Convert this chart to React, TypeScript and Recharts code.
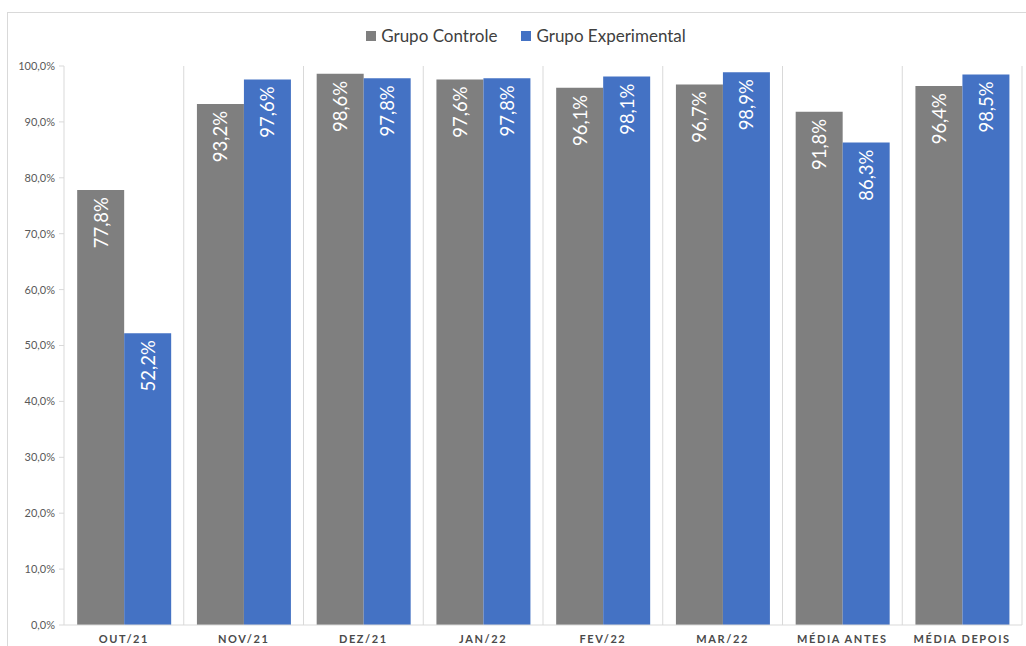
import { BarChart, Bar, XAxis, YAxis, CartesianGrid, LabelList } from 'recharts';

const categories = ['OUT/21', 'NOV/21', 'DEZ/21', 'JAN/22', 'FEV/22', 'MAR/22', 'MÉDIA ANTES', 'MÉDIA DEPOIS'];
const controle = [77.8, 93.2, 98.6, 97.6, 96.1, 96.7, 91.8, 96.4];
const experimental = [52.2, 97.6, 97.8, 97.8, 98.1, 98.9, 86.3, 98.5];
const yTicks = [0, 10, 20, 30, 40, 50, 60, 70, 80, 90, 100];

const GRAY = '#7f7f7f';
const BLUE = '#4472c4';
const FONT = 'Lato, "Open Sans", sans-serif';

const data = categories.map((name, i) => ({
    name,
    controle: controle[i],
    experimental: experimental[i],
}));

const pct = (v: number) => v.toFixed(1).replace('.', ',') + '%';

// value written sideways, reading upwards, near the top of the bar
const RotatedLabel = (props: any) => {
    const { x, y, width, value } = props;
    const cx = x + width / 2;
    const top = y + 7;
    return (
        <text
            x={cx}
            y={top}
            transform={`rotate(-90, ${cx}, ${top})`}
            textAnchor="end"
            dominantBaseline="central"
            fill="#ffffff"
            fontSize={18.5}
            fontFamily={FONT}
        >
            {pct(value)}
        </text>
    );
};

const legendItems = [
    { label: 'Grupo Controle', color: GRAY },
    { label: 'Grupo Experimental', color: BLUE },
];

export default function App() {
    return (
        <>
            <style>{'body{margin:0;overflow:hidden;background:#fff}'}</style>
            <div
                style={{
                    position: 'absolute',
                    left: 7,
                    top: 12,
                    width: 1030,
                    height: 640,
                    border: '1px solid #d9d9d9',
                    background: '#fff',
                }}
            >
                <div
                    style={{
                        position: 'absolute',
                        top: 12,
                        left: 0,
                        width: 1036,
                        display: 'flex',
                        justifyContent: 'center',
                        gap: 24,
                        fontFamily: FONT,
                        fontSize: 17,
                        color: '#404040',
                    }}
                >
                    {legendItems.map((it) => (
                        <div key={it.label} style={{ display: 'flex', alignItems: 'center', gap: 5 }}>
                            <span style={{ width: 10, height: 10, background: it.color, display: 'inline-block' }} />
                            <span>{it.label}</span>
                        </div>
                    ))}
                </div>
                <BarChart
                    width={1017}
                    height={633}
                    data={data}
                    margin={{ top: 53, right: 3, bottom: 0, left: 0 }}
                    barGap={0}
                    barCategoryGap="11%"
                >
                    <CartesianGrid
                        horizontal={false}
                        stroke="#d9d9d9"
                        verticalCoordinatesGenerator={({ offset }: any) =>
                            categories.map((_, i) => offset.left + ((i + 1) * offset.width) / categories.length)
                        }
                    />
                    <XAxis
                        dataKey="name"
                        height={21}
                        tickLine={false}
                        axisLine={{ stroke: '#d9d9d9' }}
                        tickMargin={4}
                        interval={0}
                        tick={{ fill: '#4a4a4a', fontSize: 11, fontFamily: FONT, fontWeight: 700, letterSpacing: 1.6 }}
                    />
                    <YAxis
                        width={56}
                        domain={[0, 100]}
                        ticks={yTicks}
                        tickFormatter={pct}
                        axisLine={{ stroke: '#d9d9d9' }}
                        tickLine={{ stroke: '#d9d9d9' }}
                        tickSize={5}
                        tickMargin={4}
                        tick={{ fill: '#595959', fontSize: 11, fontFamily: FONT }}
                    />
                    <Bar dataKey="controle" fill={GRAY} isAnimationActive={false}>
                        <LabelList dataKey="controle" content={RotatedLabel} />
                    </Bar>
                    <Bar dataKey="experimental" fill={BLUE} isAnimationActive={false}>
                        <LabelList dataKey="experimental" content={RotatedLabel} />
                    </Bar>
                </BarChart>
            </div>
        </>
    );
}
